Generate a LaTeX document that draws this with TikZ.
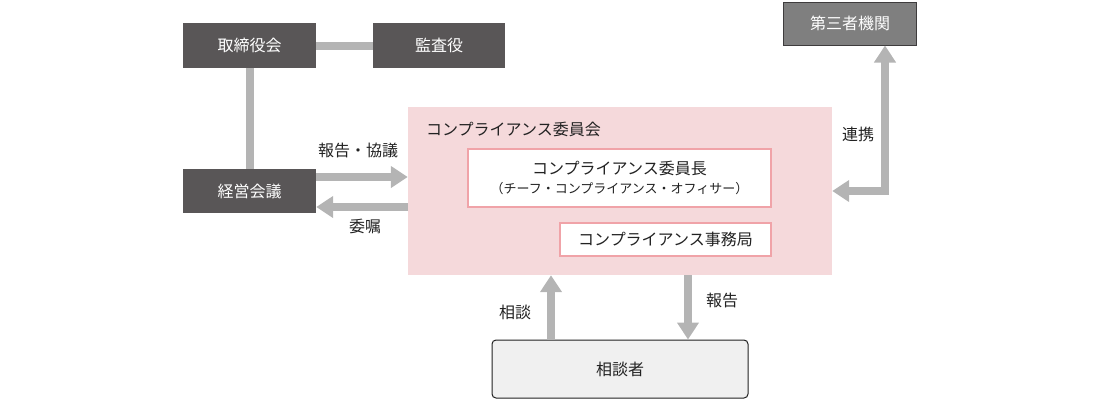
\documentclass[tikz,border=0pt]{standalone}
\usepackage{fontspec}
\setmainfont{Noto Sans CJK JP}
\usetikzlibrary{arrows.meta}
\definecolor{boxdark}{HTML}{595657}
\definecolor{arrgray}{HTML}{B4B4B4}
\definecolor{cmtpink}{HTML}{F5D9DB}
\definecolor{edgepink}{HTML}{F0A3A8}
\definecolor{thirdgray}{HTML}{7F7F7F}
\definecolor{txtdark}{HTML}{222222}
\begin{document}
\begin{tikzpicture}[
   x=1pt,y=-1pt,
   font=\fontsize{16}{19}\selectfont,
   dark/.style={fill=boxdark,text=white,inner sep=0pt,minimum width=133pt,minimum height=45pt},
   cmt/.style={fill=cmtpink,inner sep=0pt,minimum width=424pt,minimum height=168pt},
   inbox/.style={draw=edgepink,line width=1.2pt,fill=white,text=txtdark,inner sep=0pt,align=center},
   link/.style={arrgray,line width=8pt},
   arr/.style={arrgray,line width=8pt,-{Triangle[width=21pt,length=17pt]}},
   lbl/.style={text=txtdark,inner sep=0pt}]
\useasboundingbox (0,0) rectangle (1100,400);
\node[dark] (board) at (249.5,45.5) {取締役会};
\node[dark,minimum width=132pt] (audit) at (439,45.5) {監査役};
\node[dark,minimum height=44pt] (mgmt) at (249.5,191) {経営会議};
\node[cmt] (comm) at (620,191) {};
\node[lbl,anchor=west] (commtitle) at (426,129) {コンプライアンス委員会};
\node[inbox,minimum width=303pt,minimum height=58pt] (chief) at (619.5,178) {コンプライアンス委員長\\[0pt]{\fontsize{13}{15}\selectfont（チーフ・コンプライアンス・オフィサー）}};
\node[inbox,minimum width=211pt,minimum height=33pt] (office) at (665.5,239.5) {コンプライアンス事務局};
\node[draw=boxdark!70!black,line width=1pt,fill=thirdgray,text=white,inner sep=0pt,minimum width=133pt,minimum height=43pt] (third) at (850,23.5) {第三者機関};
\node[draw=txtdark,line width=1pt,rounded corners=4pt,fill=black!6,text=txtdark,inner sep=0pt,minimum width=256pt,minimum height=58pt] (client) at (620,369) {相談者};
\draw[link] (board.east) -- (audit.west);
\draw[link] (board.south) -- (mgmt.north);
\draw[arr] (mgmt.east |- 0,177) -- (comm.west |- 0,177);
\draw[arr] (comm.west |- 0,207) -- (mgmt.east |- 0,207);
\draw[arr,{Triangle[width=21pt,length=17pt]}-{Triangle[width=21pt,length=17pt]}] (third.south -| 885,0) |- (comm.east |- 0,191);
\draw[arr] (client.north -| 551,0) -- (comm.south -| 551,0);
\draw[arr] (comm.south -| 688,0) -- (client.north -| 688,0);
\node[lbl] (reportdisc) at (358,150) {報告・協議};
\node[lbl] (entrust) at (365,226) {委嘱};
\node[lbl] (liaison) at (858,134) {連携};
\node[lbl] (consult) at (515,312) {相談};
\node[lbl] (report) at (722,300) {報告};
\end{tikzpicture}
\end{document}
